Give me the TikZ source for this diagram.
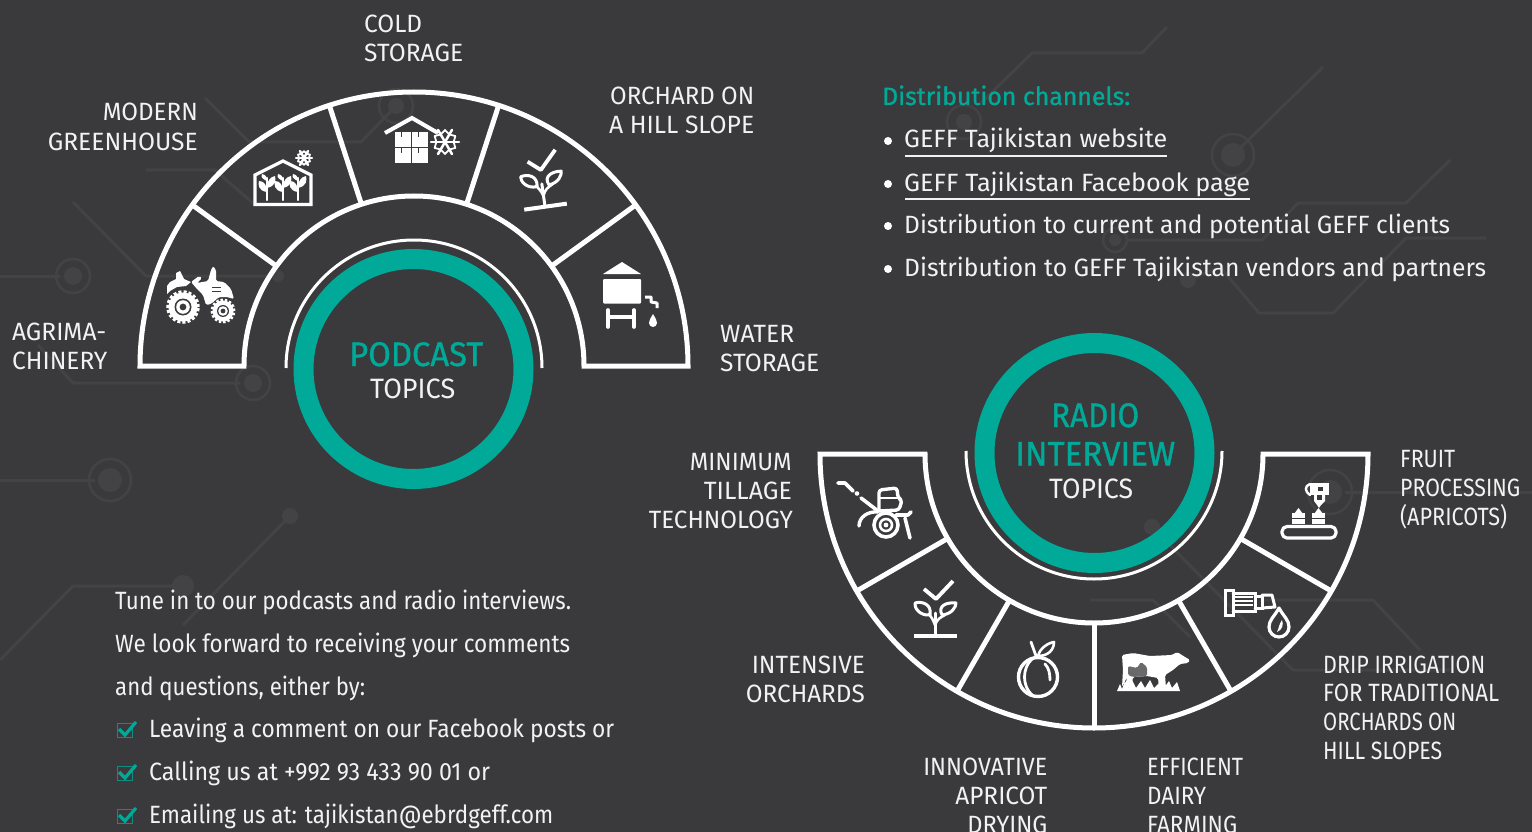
\documentclass[tikz,border=0pt]{standalone}
\usepackage{fontspec}
\usepackage{graphicx}
\setmainfont{Fira Sans}
\newfontfamily\medfont[FakeBold=1.1]{Fira Sans}
\definecolor{bg}{HTML}{3A393B}
\definecolor{trace}{HTML}{434244}
\definecolor{teal}{HTML}{00A998}
\definecolor{ink}{HTML}{F2F2F2}
\definecolor{patch}{HTML}{6A6A6A}
% name, anchor, x, baseline y, width, text
\newcommand\T[7][25]{\node[anchor=#3,inner sep=0pt,text=ink,font=\fontsize{#1}{#1}\selectfont] (#2) at (#4,#5) {\resizebox{#6pt}{\height}{#7}};}
\newcommand\M[7][34]{\node[anchor=#3,inner sep=0pt,text=teal,font=\fontsize{#1}{#1}\medfont] (#2) at (#4,#5) {\resizebox{#6pt}{\height}{#7}};}
\tikzset{
  ringline/.style={draw=white,line width=5pt,line join=miter},
  thinline/.style={draw=white,line width=3pt},
  tealring/.style={draw=teal,line width=20pt},
  bgline/.style={draw=trace,line width=3pt,line join=round},
  bgring/.style={draw=trace,line width=2.5pt},
  bgdot/.style={fill=trace},
  icf/.style={fill=white,draw=none},
  icl/.style={draw=white,line width=3pt,line cap=round,line join=round,fill=none},
  ick/.style={fill=bg,draw=none},
}
\newcommand\sprout{%
  \draw[icl,line width=3.8pt,line cap=butt] (-11,-18) -- (1,-8) -- (18,-26);
  \draw[icl] (0,27) -- (0,6);
  \draw[icl,line width=2.6pt] (0,18) .. controls (-2,12) and (-4,10) .. (-6,7);
  \draw[icl,line width=2.6pt] (0,18) .. controls (2,12) and (6,10) .. (10,8);
  \draw[icl] (-5,8) .. controls (-16,9) and (-21,0) .. (-20,-4) .. controls (-13,-6) and (-3,-3) .. cycle;
  \draw[icl] (7,8) .. controls (17,7) and (21,0) .. (21,-4) .. controls (13,-5) and (2,-2) .. cycle;
  \draw[icl,line width=4pt,line cap=butt] (-21,29) -- (22,29);
}
\newcommand\flake[1]{%
  \foreach \q in {0,60,120}{\draw[white,line width=2.5pt,line cap=round] (\q:#1) -- (\q+180:#1);}
  \foreach \q in {0,60,120,180,240,300}{\draw[white,line width=1.8pt,line cap=round] (\q:0.62*#1) -- (\q+30:0.85*#1) (\q:0.62*#1) -- (\q-30:0.85*#1);}
}
\begin{document}
\begin{tikzpicture}[x=1pt,y=-1pt]
\useasboundingbox (0,0) rectangle (1532,832);
\fill[bg] (0,0) rectangle (1532,832);
\clip (0,0) rectangle (1532,832);
% ---- faint circuit traces
\draw[bgline] (0,276) -- (60,276);
\draw[bgring] (73,276) circle[radius=17pt]; \fill[bgdot] (73,276) circle[radius=9pt];
\draw[bgline] (73,202) -- (146,276) -- (278,276); \fill[bgdot] (278,276) circle[radius=6pt];
\draw[bgline] (38,345) -- (73,383) -- (240,383);
\draw[bgring] (253,383) circle[radius=17pt]; \fill[bgdot] (253,383) circle[radius=9pt];
\draw[bgline] (0,480) -- (95,480);
\draw[bgring] (110,480) circle[radius=21pt]; \fill[bgdot] (110,480) circle[radius=12pt];
\fill[bgdot] (290,516) circle[radius=8pt];
\draw[bgline] (290,516) -- (183,625);
\draw[bgline] (0,660) -- (73,586) -- (183,586); \fill[bgdot] (183,586) circle[radius=11pt];
\draw[bgring] (396,106) circle[radius=17pt]; \fill[bgdot] (396,106) circle[radius=8pt];
\draw[bgline] (396,106) -- (361,142) -- (249,142) -- (205,98);
\draw[bgline] (146,170) -- (215,170) -- (254,204);
\draw[bgline] (1167,27) -- (1142,53) -- (1032,53) -- (981,103);
\draw[bgring] (964,122) circle[radius=17pt]; \fill[bgdot] (964,122) circle[radius=8pt];
\draw[bgring] (1233,155) circle[radius=21pt]; \fill[bgdot] (1233,155) circle[radius=12pt];
\draw[bgline] (1233,155) -- (1323,67);
\draw[bgline] (1450,160) -- (1406,203) -- (1298,203) -- (1262,240) -- (1127,240);
\draw[bgring] (1115,240) circle[radius=12pt]; \fill[bgdot] (1115,240) circle[radius=6pt];
\draw[bgline] (1486,238) -- (1406,238) -- (1333,313) -- (1259,313) -- (1220,267) -- (1188,280);
\fill[bgdot] (1188,280) circle[radius=8pt];
\draw[bgring] (1330,492) circle[radius=22pt]; \fill[bgdot] (1330,492) circle[radius=12pt];
\draw[bgline] (1345,492) -- (1532,492);
\fill[bgdot] (1152,527) circle[radius=8pt];
\draw[bgline] (1152,527) -- (1293,670) -- (1450,670);
\draw[bgline] (1260,600) -- (1373,600) -- (1420,650);
\draw[bgline] (1090,600) -- (1153,600) -- (1190,637);
% ---- podcast fan
\coordinate (pc) at (414,366);
\draw[ringline] (140,366) arc[start angle=180,end angle=0,radius=274pt] -- (584,366) arc[start angle=0,end angle=180,radius=170pt] -- cycle;
\foreach \a in {36,72,108,144}{\draw[ringline,shift={(pc)}] (-\a:170) -- (-\a:274);}
\draw[thinline] (286,368) arc[start angle=180,end angle=0,radius=128pt];
\draw[tealring] (413.5,369) circle[radius=110pt];
% ---- radio fan
\coordinate (rc) at (1094,454);
\draw[ringline] (820,454) arc[start angle=180,end angle=360,radius=274pt] -- (1263,454) arc[start angle=360,end angle=180,radius=169pt] -- cycle;
\foreach \a in {30,60,90,120,150}{\draw[ringline,shift={(rc)}] (\a:169) -- (\a:274);}
\draw[thinline] (966,451) arc[start angle=180,end angle=360,radius=128pt];
\draw[tealring] (1094.5,453) circle[radius=110pt];
% ---- tractor
\draw[white,line width=3.5pt,dash pattern=on 3pt off 2pt] (183,307) circle[radius=15pt];
\fill[icf] (183,307) circle[radius=14.5pt];
\fill[ick] (183,307) circle[radius=8.5pt]; \fill[icf] (183,307) circle[radius=6.8pt]; \fill[ick] (183,307) circle[radius=3.4pt];
\draw[white,line width=3pt,dash pattern=on 2.5pt off 1.8pt] (223,311) circle[radius=11pt];
\fill[icf] (223,311) circle[radius=10.5pt];
\fill[ick] (223,311) circle[radius=6pt]; \fill[icf] (223,311) circle[radius=4.8pt]; \fill[ick] (223,311) circle[radius=2.4pt];
\fill[icf] (167,286) -- (170,282) -- (176,279) -- (176,273) -- (180,271) -- (184,279) -- (191,282) -- (186,286) -- (177,287) -- (170,291) -- (167,294) -- cycle;
\fill[icf,rounded corners=1.5pt] (191,282) -- (199,276) -- (202,278) -- (197,283) -- (208,281) -- (211,270) -- (213,266) -- (216,270) -- (216,281) -- (224,282) -- (231,289) -- (234,299) -- (227,297) -- (219,297) -- (211,304) -- (206,305) -- (203,295) -- (197,289) -- cycle;
\draw[bg,line width=1pt] (212,287) -- (221,287) (212,291) -- (221,291);
% ---- greenhouse
\draw[icl,line width=3.2pt,line cap=butt,line join=miter] (255,204.5) -- (255,175) -- (283,161) -- (311,175) -- (311,204.5) -- cycle;
\foreach \x in {267,283,298}{
  \draw[icl,line width=2.4pt] (\x,200) -- (\x,178);
  \fill[icf] (\x,192) .. controls (\x-9,191) and (\x-9,184) .. (\x-8,181) .. controls (\x-3,181) and (\x,185) .. cycle;
  \fill[icf] (\x,188) .. controls (\x+9,186) and (\x+9,180) .. (\x+8,176) .. controls (\x+3,177) and (\x,181) .. cycle;
  \fill[icf] (\x,181) .. controls (\x-7,178) and (\x-6,175) .. (\x-5,174) .. controls (\x-1,175) and (\x,177) .. cycle;
}
\begin{scope}[shift={(304,158)}] \flake{8} \end{scope}
% ---- cold storage
\draw[white,line width=4pt,line join=miter] (385,133) -- (412,118) -- (438,133);
\foreach \x/\y in {395/132,412/132,395/148,412/148}{
  \fill[icf] (\x,\y) rectangle ++(16,15);
  \fill[ick] (\x+5.5,\y) rectangle ++(1.5,5);
}
\begin{scope}[shift={(445,142)}] \flake{14} \end{scope}
% ---- sprouts
\begin{scope}[shift={(541,178)},rotate=8]\sprout\end{scope}
\begin{scope}[shift={(935,607)}]\sprout\end{scope}
% ---- water tower
\fill[icf] (603,274) -- (622,262) -- (641,274) -- cycle;
\fill[icf,rounded corners=1pt] (603,279) rectangle (641,303.5);
\draw[icl,line width=3.6pt] (608,310) -- (608,327) (634,310) -- (634,327) (608,317) -- (634,317);
\draw[icl,line width=3pt,line cap=butt] (645,297) -- (651,297) -- (651,302) -- (657,303) -- (657,308);
\fill[icf] (653,314) .. controls (650,319) and (649,321) .. (649,323) arc[start angle=180,end angle=360,radius=4pt] .. controls (657,321) and (656,319) .. (653,314) -- cycle;
% ---- tiller
\draw[icl,line width=3.6pt] (838,483) -- (845,483) -- (853,491);
\fill[icf] (857,493.5) circle[radius=2.3pt];
\draw[icl,line width=3.6pt] (861,498) -- (878,511);
\draw[icl,line width=3.4pt,rounded corners=3pt] (879,511) -- (879,490) -- (897,488) -- (898,498) -- (902,500) -- (899,510) -- (879,511);
\draw[icl,line width=2.8pt] (879,498) -- (899,498);
\draw[icl,line width=3.4pt] (859,526) .. controls (859,517) and (868,511) .. (878,512);
\draw[icl,line width=3.6pt] (886,525) circle[radius=12pt];
\draw[icl,line width=2.6pt] (886,525) circle[radius=6pt];
\fill[icf] (886,525) circle[radius=2.4pt];
\draw[icl,line width=3.6pt] (896,515) -- (908,515) -- (911,512);
\draw[icl,line width=3.6pt] (905,518) -- (910,538);
% ---- apricot
\draw[icl,line width=3.4pt] (1038,677) circle[radius=19.5pt];
\draw[icl,line width=2.8pt] (1032,659) .. controls (1022,668) and (1022,686) .. (1032,695);
\draw[icl,line width=2.8pt] (1045,664) .. controls (1049,668) and (1050,674) .. (1050,680);
\draw[icl,line width=2.8pt] (1031,642) -- (1036,656);
\draw[icl,line width=2.6pt] (1038,656) .. controls (1040,648) and (1048,643) .. (1054,642) .. controls (1054,650) and (1048,656) .. (1038,656) -- cycle;
% ---- cow
\fill[icf,rounded corners=1.5pt] (1122,655) -- (1133,653) -- (1150,656) -- (1172,655) -- (1177,652) -- (1185,657) -- (1190,660) -- (1188,663) -- (1180,664) -- (1173,670) -- (1165,675) -- (1166,688) -- (1159,688) -- (1158,678) -- (1147,676) -- (1133,677) -- (1132,683) -- (1129,688) -- (1125,688) -- (1127,677) -- (1122,687) -- (1123,670) -- cycle;
\fill[patch,rounded corners=1.5pt] (1128,666) -- (1137,668) -- (1141,662) -- (1147,667) -- (1147,676) -- (1133,677) -- (1128,675) -- cycle;
\fill[icf] (1117,691) -- (1120,684) -- (1122,689) -- (1125,681) -- (1128,688) -- (1132,680) -- (1136,688) -- (1141,681) -- (1145,688) -- (1150,680) -- (1154,688) -- (1160,682) -- (1164,688) -- (1169,681) -- (1172,688) -- (1177,682) -- (1180,691) -- cycle;
% ---- drip nozzle
\draw[icl,line width=3pt,line join=miter] (1225,590) rectangle (1233,615);
\draw[icl,line width=3pt,line join=miter] (1233,593) -- (1255,593) -- (1255,611) -- (1233,611);
\draw[white,line width=1.2pt] (1235,597) -- (1253,597) (1235,601) -- (1253,601) (1235,605) -- (1253,605);
\draw[icl,line width=3pt,line join=miter] (1255,596) -- (1262,596) -- (1262,608) -- (1255,608);
\draw[icl,line width=3pt] (1262,595) -- (1272,595) -- (1275,607) -- (1262,608);
\draw[icl,line width=3.2pt] (1279,608) .. controls (1274,617) and (1269,620) .. (1269,627) arc[start angle=180,end angle=360,radius=10pt] .. controls (1289,620) and (1284,617) .. cycle;
\fill[icf] (1282,620) .. controls (1284,625) and (1282,630) .. (1277,632) .. controls (1279,628) and (1279,624) .. cycle;
% ---- conveyor
\draw[icl,line width=3.2pt,rounded corners=5pt] (1282,526.5) rectangle (1336,538);
\foreach \x in {1292,1312}{
  \fill[icf] (\x,524) rectangle ++(13,-11);
  \fill[icf] (\x+2,514) -- (\x+6.5,508) -- (\x+11,514) -- cycle;
  \draw[bg,line width=1pt] (\x,518) -- (\x+13,518);
}
\fill[icf] (1310,483) rectangle (1329,495);
\fill[ick] (1318,487) rectangle (1323,491);
\draw[icl,line width=2.4pt] (1310,484) .. controls (1304,486) and (1305,492) .. (1310,495);
\fill[icf] (1314,494) -- (1325,494) -- (1325,501) -- (1321,505) -- (1319,508) -- (1317,505) -- (1314,501) -- cycle;
\fill[ick] (1317,495) rectangle (1322,500);
% ---- labels around the podcast fan
\T{lbl1a}{base west}{364}{33}{58}{COLD}
\T{lbl1b}{base west}{364}{62}{99}{STORAGE}
\T{lbl2a}{base east}{198}{121}{95}{MODERN}
\T{lbl2b}{base east}{198}{150}{150}{GREENHOUSE}
\T{lbl3a}{base west}{610}{105}{144}{ORCHARD ON}
\T{lbl3b}{base west}{609}{134}{145}{A HILL SLOPE}
\T{lbl4a}{base west}{12}{340}{94}{AGRIMA-}
\T{lbl4b}{base west}{12}{369}{95}{CHINERY}
\T{lbl5a}{base west}{720}{342}{74}{WATER}
\T{lbl5b}{base west}{720}{371}{99}{STORAGE}
\M{pod}{base west}{349}{366}{134}{PODCAST}
\T[28]{podt}{base west}{370}{398}{85}{TOPICS}
% ---- labels around the radio fan
\M{rad1}{base west}{1051}{427}{88}{RADIO}
\M{rad2}{base west}{1015}{465.5}{160}{INTERVIEW}
\T[28]{radt}{base west}{1049}{498}{84}{TOPICS}
\T{lbl6a}{base east}{792}{470}{102}{MINIMUM}
\T{lbl6b}{base east}{792}{499}{88}{TILLAGE}
\T{lbl6c}{base east}{793}{528}{144}{TECHNOLOGY}
\T{lbl7a}{base east}{865}{673}{113}{INTENSIVE}
\T{lbl7b}{base east}{865}{702}{119}{ORCHARDS}
\T{lbl8a}{base east}{1047.5}{775}{124}{INNOVATIVE}
\T{lbl8b}{base east}{1047.5}{804}{92}{APRICOT}
\T{lbl8c}{base east}{1047.5}{833}{80}{DRYING}
\T{lbl9a}{base west}{1147}{775}{96}{EFFICIENT}
\T{lbl9b}{base west}{1147}{804}{59}{DAIRY}
\T{lbl9c}{base west}{1147}{833}{90}{FARMING}
\T{lbl10a}{base west}{1400}{467}{55}{FRUIT}
\T{lbl10b}{base west}{1400}{496}{120}{PROCESSING}
\T{lbl10c}{base west}{1400}{525}{107}{(APRICOTS)}
\T{lbl11a}{base west}{1323}{673}{162}{DRIP IRRIGATION}
\T{lbl11b}{base west}{1323}{701}{176}{FOR TRADITIONAL}
\T{lbl11c}{base west}{1323}{730}{133}{ORCHARDS ON}
\T{lbl11d}{base west}{1323}{759}{119}{HILL SLOPES}
% ---- distribution channels
\M[25]{dist}{base west}{882}{105}{248}{Distribution channels:}
\foreach \y in {141,184,226,269}{\fill[white] (888,\y) circle[radius=4pt];}
\T{d1}{base west}{904}{148}{263}{GEFF Tajikistan website}
\T{d2}{base west}{904}{191}{346}{GEFF Tajikistan Facebook page}
\T{d3}{base west}{904}{233.5}{546}{Distribution to current and potential GEFF clients}
\T{d4}{base west}{904}{276}{582}{Distribution to GEFF Tajikistan vendors and partners}
\draw[ink,line width=1.8pt] (905,156) -- (1167,156);
\draw[ink,line width=1.8pt] (905,199) -- (1250,199);
% ---- invitation text
\T{t1}{base west}{115}{609.5}{456}{Tune in to our podcasts and radio interviews.}
\T{t2}{base west}{115}{652.5}{455}{We look forward to receiving your comments}
\T{t3}{base west}{115}{695.5}{250}{and questions, either by:}
\T{t4}{base west}{149}{737.5}{465}{Leaving a comment on our Facebook posts or}
\T{t5}{base west}{149}{780.5}{341}{Calling us at +992 93 433 90 01 or}
\T{t6}{base west}{149}{823.5}{404}{Emailing us at: tajikistan@ebrdgeff.com}
\foreach \y in {723,766,809}{
  \draw[teal!75!bg,line width=1pt] (117,\y) rectangle ++(15,14);
  \draw[teal,line width=3.2pt,line join=miter] (119,\y+6) -- (125,\y+12) -- (136,\y-1);
}
\end{tikzpicture}
\end{document}
